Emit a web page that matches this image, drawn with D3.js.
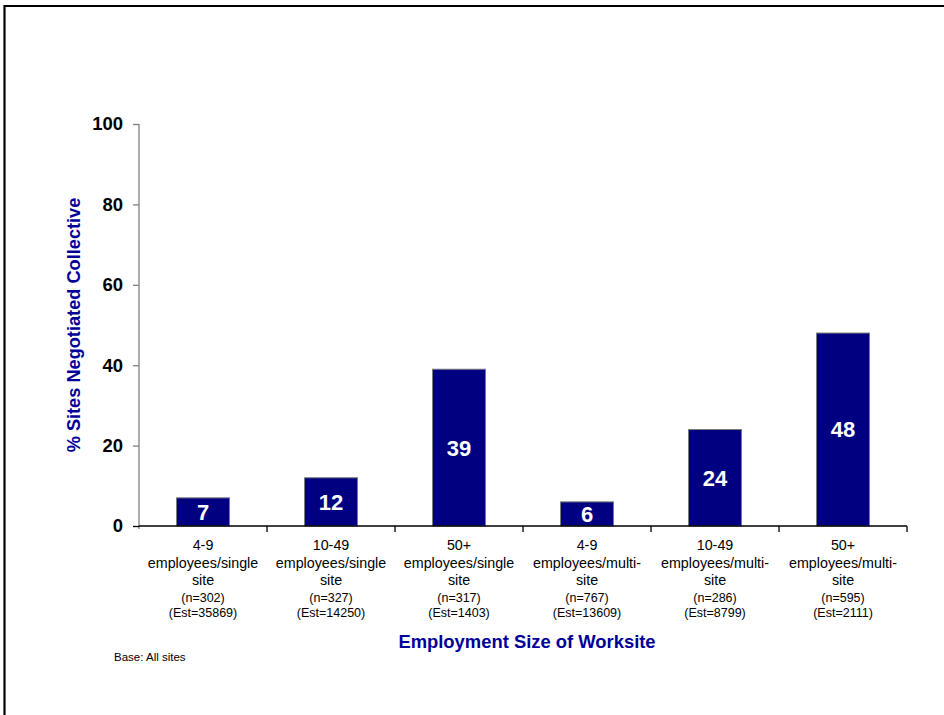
<!DOCTYPE html>
<html>
<head>
<meta charset="utf-8">
<script src="https://cdn.jsdelivr.net/npm/d3@7"></script>
<style>
  html, body { margin: 0; padding: 0; background: #fff; }
  svg { display: block; font-family: "Liberation Sans", Arial, sans-serif; }
</style>
</head>
<body>
<svg id="chart" width="944" height="715"></svg>
<script>
// Worksite size groups and the share of sites with a negotiated collective agreement
const sizeGroups = ["4-9", "10-49", "50+", "4-9", "10-49", "50+"];
const siteTypes = ["employees/single", "employees/single", "employees/single",
                   "employees/multi-", "employees/multi-", "employees/multi-"];
const sampleN = [302, 327, 317, 767, 286, 595];
const estimates = [35869, 14250, 1403, 13609, 8799, 2111];
const percentNegotiated = [7, 12, 39, 6, 24, 48];
const yTicks = [0, 20, 40, 60, 80, 100];

const categories = sizeGroups.map((g, i) => i);

const svg = d3.select("#chart");

// Frame
svg.append("path")
  .attr("d", "M4.5,715 V6 H944")
  .attr("fill", "none")
  .attr("stroke", "#000")
  .attr("stroke-width", 2.2);

const plotLeft = 139, plotRight = 907, plotTop = 124, plotBottom = 526;

const x = d3.scaleBand().domain(categories).range([plotLeft, plotRight]).paddingInner(0).paddingOuter(0);
const y = d3.scaleLinear().domain([0, 100]).range([plotBottom, plotTop]);
const barW = 53;

// Y axis
const yAxis = svg.append("g").attr("transform", `translate(${plotLeft},0)`)
  .call(d3.axisLeft(y).tickValues(yTicks).tickSize(6).tickPadding(10));
yAxis.select(".domain").attr("stroke", "#808080").attr("stroke-width", 1.3)
  .attr("d", `M0,${plotTop}V${plotBottom + 3}`);
yAxis.selectAll(".tick line").attr("stroke", "#808080").attr("stroke-width", 1.3);
yAxis.selectAll(".tick text")
  .attr("fill", "#000")
  .attr("font-size", 18.5)
  .attr("font-weight", "bold")
  .attr("font-family", "'Liberation Sans', Arial, sans-serif");
// zero tick joins the baseline in black
yAxis.selectAll(".tick").filter(d => d === 0).select("line").attr("stroke", "#000");

// Bars
svg.append("g").selectAll("rect")
  .data(categories)
  .join("rect")
  .attr("x", i => x(i) + (x.bandwidth() - barW) / 2)
  .attr("y", i => y(percentNegotiated[i]))
  .attr("width", barW)
  .attr("height", i => y(0) - y(percentNegotiated[i]))
  .attr("fill", "#000080")
  .attr("stroke", "#7a7a7a")
  .attr("stroke-width", 1);

// X axis baseline with boundary ticks
const xAxisG = svg.append("g");
xAxisG.append("line")
  .attr("x1", plotLeft).attr("x2", plotRight)
  .attr("y1", plotBottom).attr("y2", plotBottom)
  .attr("stroke", "#000").attr("stroke-width", 1.3);
xAxisG.selectAll("line.tick")
  .data(categories.slice(1).concat([categories.length]))
  .join("line")
  .attr("class", "tick")
  .attr("x1", i => plotLeft + i * x.bandwidth())
  .attr("x2", i => plotLeft + i * x.bandwidth())
  .attr("y1", plotBottom).attr("y2", plotBottom + 6)
  .attr("stroke", "#000").attr("stroke-width", 1.3);

// Value labels inside bars
svg.append("g").selectAll("text")
  .data(categories)
  .join("text")
  .attr("x", i => x(i) + x.bandwidth() / 2)
  .attr("y", i => (y(percentNegotiated[i]) + y(0)) / 2)
  .attr("dy", "0.36em")
  .attr("text-anchor", "middle")
  .attr("fill", "#fff")
  .attr("font-size", 22)
  .attr("font-weight", "bold")
  .text(i => percentNegotiated[i]);

// Category labels
const catG = svg.append("g").selectAll("g")
  .data(categories)
  .join("g")
  .attr("transform", i => `translate(${x(i) + x.bandwidth() / 2},0)`);
catG.each(function(i) {
  const g = d3.select(this);
  const lines = [
    { t: sizeGroups[i], yy: 550, fs: 14.3 },
    { t: siteTypes[i], yy: 568, fs: 14.3 },
    { t: "site", yy: 585, fs: 14.3 },
    { t: `(n=${sampleN[i]})`, yy: 601.5, fs: 12.5 },
    { t: `(Est=${estimates[i]})`, yy: 617, fs: 12.5 }
  ];
  lines.forEach(l => {
    g.append("text")
      .attr("x", 0).attr("y", l.yy)
      .attr("text-anchor", "middle")
      .attr("font-size", l.fs)
      .attr("fill", "#000")
      .text(l.t);
  });
});

// Axis titles
svg.append("text")
  .attr("x", (plotLeft + plotRight) / 2 + 4).attr("y", 648)
  .attr("text-anchor", "middle")
  .attr("font-size", 18.4)
  .attr("font-weight", "bold")
  .attr("fill", "#000099")
  .text("Employment Size of Worksite");

svg.append("text")
  .attr("transform", `translate(79.5,${(plotTop + plotBottom) / 2}) rotate(-90)`)
  .attr("text-anchor", "middle")
  .attr("font-size", 18.2)
  .attr("font-weight", "bold")
  .attr("fill", "#000099")
  .text("% Sites Negotiated Collective");

// Footnote
svg.append("text")
  .attr("x", 114).attr("y", 661)
  .attr("font-size", 11.5)
  .attr("fill", "#000")
  .text("Base: All sites");
</script>
</body>
</html>
